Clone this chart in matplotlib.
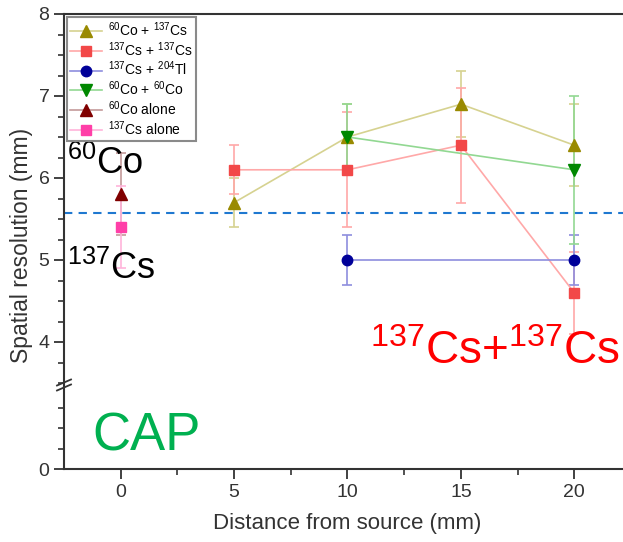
import matplotlib
matplotlib.use('Agg')
import matplotlib.pyplot as plt
from matplotlib.lines import Line2D

plt.rcParams['font.family'] = ['Liberation Sans', 'DejaVu Sans']
plt.rcParams['mathtext.fontset'] = 'custom'
plt.rcParams['mathtext.rm'] = 'Liberation Sans'
plt.rcParams['mathtext.default'] = 'regular'

# data
labels = [r'$^{60}$Co + $^{137}$Cs', r'$^{137}$Cs + $^{137}$Cs', r'$^{137}$Cs + $^{204}$Tl',
          r'$^{60}$Co + $^{60}$Co', r'$^{60}$Co alone', r'$^{137}$Cs alone']
x_co_cs = [5, 10, 15, 20]
y_co_cs = [5.7, 6.5, 6.9, 6.4]
e_co_cs = [0.3, 0.4, 0.4, 0.5]
x_cs_cs = [5, 10, 15, 20]
y_cs_cs = [6.1, 6.1, 6.4, 4.6]
e_cs_cs = [0.3, 0.7, 0.7, 0.5]
x_cs_tl = [10, 20]
y_cs_tl = [5.0, 5.0]
e_cs_tl = [0.3, 0.3]
x_co_co = [10, 20]
y_co_co = [6.5, 6.1]
e_co_co = [0.4, 0.9]
x_co = [0]
y_co = [5.8]
e_co = [0.5]
x_cs = [0]
y_cs = [5.4]
e_cs = [0.5]
cap_level = 5.57

series = [
    (x_co_cs, y_co_cs, e_co_cs, '^', '#998a00', '#d6d290', 8),
    (x_cs_cs, y_cs_cs, e_cs_cs, 's', '#f24848', '#ffa8a8', 6.5),
    (x_cs_tl, y_cs_tl, e_cs_tl, 'o', '#000099', '#8e8ede', 7.5),
    (x_co_co, y_co_co, e_co_co, 'v', '#008800', '#92d892', 8),
    (x_co, y_co, e_co, '^', '#800000', '#c49a9a', 8),
    (x_cs, y_cs, e_cs, 's', '#ff3fa8', '#ffb4da', 6.5),
]

fig = plt.figure(figsize=(6.23, 5.42), dpi=100)
L, W = 64 / 623, 567 / 623
ax = fig.add_axes([L, 1 - 383 / 542, W, 369 / 542])
axb = fig.add_axes([L, 1 - 469 / 542, W, 82 / 542], sharex=ax)

handles = []
for (xs, ys, es, mk, mc, lc, ms), lab in zip(series, labels):
    ax.errorbar(xs, ys, yerr=es, fmt='none', ecolor=lc, elinewidth=1.2, capsize=3.5, capthick=1.2, zorder=2)
    ax.plot(xs, ys, color=lc, lw=1.2, marker=mk, ms=ms, mfc=mc, mec=mc, zorder=3)
    handles.append(Line2D([], [], color=lc, lw=1.2, marker=mk, ms=ms, mfc=mc, mec=mc, label=lab))

ax.axhline(cap_level, color='#1f78d0', lw=1.5, ls=(0, (4, 3)), zorder=1)

ax.set_xlim(-2.5, 22.5)
ax.set_ylim(3.5, 8)
axb.set_ylim(0, 1)

spine_c = '#333333'
for a in (ax, axb):
    for s in a.spines.values():
        s.set_linewidth(1.5)
        s.set_color(spine_c)
    a.tick_params(which='major', direction='out', length=7, width=1.3, color=spine_c, labelsize=14, labelcolor='#333333')
    a.tick_params(which='minor', direction='out', length=4, width=1.2, color=spine_c)
ax.spines['bottom'].set_visible(False)
axb.spines['top'].set_visible(False)
ax.tick_params(axis='x', which='both', bottom=False, labelbottom=False)
ax.set_yticks([4, 5, 6, 7, 8])
ax.set_yticks([3.5 + 0.25 * i for i in range(19) if (3.5 + 0.25 * i) % 1 != 0], minor=True)
axb.set_yticks([0])
axb.set_yticks([0.25, 0.5, 0.75], minor=True)
axb.set_xticks([0, 5, 10, 15, 20])
axb.set_xticks([2.5, 7.5, 12.5, 17.5], minor=True)

axb.set_xlabel('Distance from source (mm)', fontsize=16, color='#333333', labelpad=9)
fig.text(22 / 623, 1 - 245 / 542, 'Spatial resolution (mm)', rotation=90, fontsize=16.5,
         color='#333333', ha='center', va='center')

# axis break
fig.add_artist(Line2D([L, L], [1 - 387 / 542, 1 - 383 / 542], color=spine_c, lw=1.5))
for dy in (-2.5, 2.5):
    yc = 385 + dy
    fig.add_artist(Line2D([(L * 623 - 7) / 623, (L * 623 + 7) / 623],
                          [1 - (yc + 3) / 542, 1 - (yc - 3) / 542], color=spine_c, lw=1.3))

ax.legend(handles=handles, loc='upper left', bbox_to_anchor=(67 / 623, 1 - 17 / 542),
          bbox_transform=fig.transFigure, borderaxespad=0, fontsize=10, frameon=True,
          fancybox=False, edgecolor='#8a8a8a', handlelength=2.3, labelspacing=0.08,
          handletextpad=0.4, borderpad=0.25, framealpha=1)
ax.get_legend().get_frame().set_linewidth(1.5)

ax.text(-2.35, 6.05, r'$^{60}$Co', fontsize=26, ha='left', va='baseline', color='black')
ax.text(-2.35, 4.77, r'$^{137}$Cs', fontsize=26, ha='left', va='baseline', color='black')
ax.text(11.0, 3.73, r'$^{137}$Cs+$^{137}$Cs', fontsize=33, ha='left', va='baseline', color='#ff0000', zorder=5)
axb.text(-1.24, 0.23, 'CAP', fontsize=38, ha='left', va='baseline', color='#00b050')

fig.savefig('out.png', dpi=100)
